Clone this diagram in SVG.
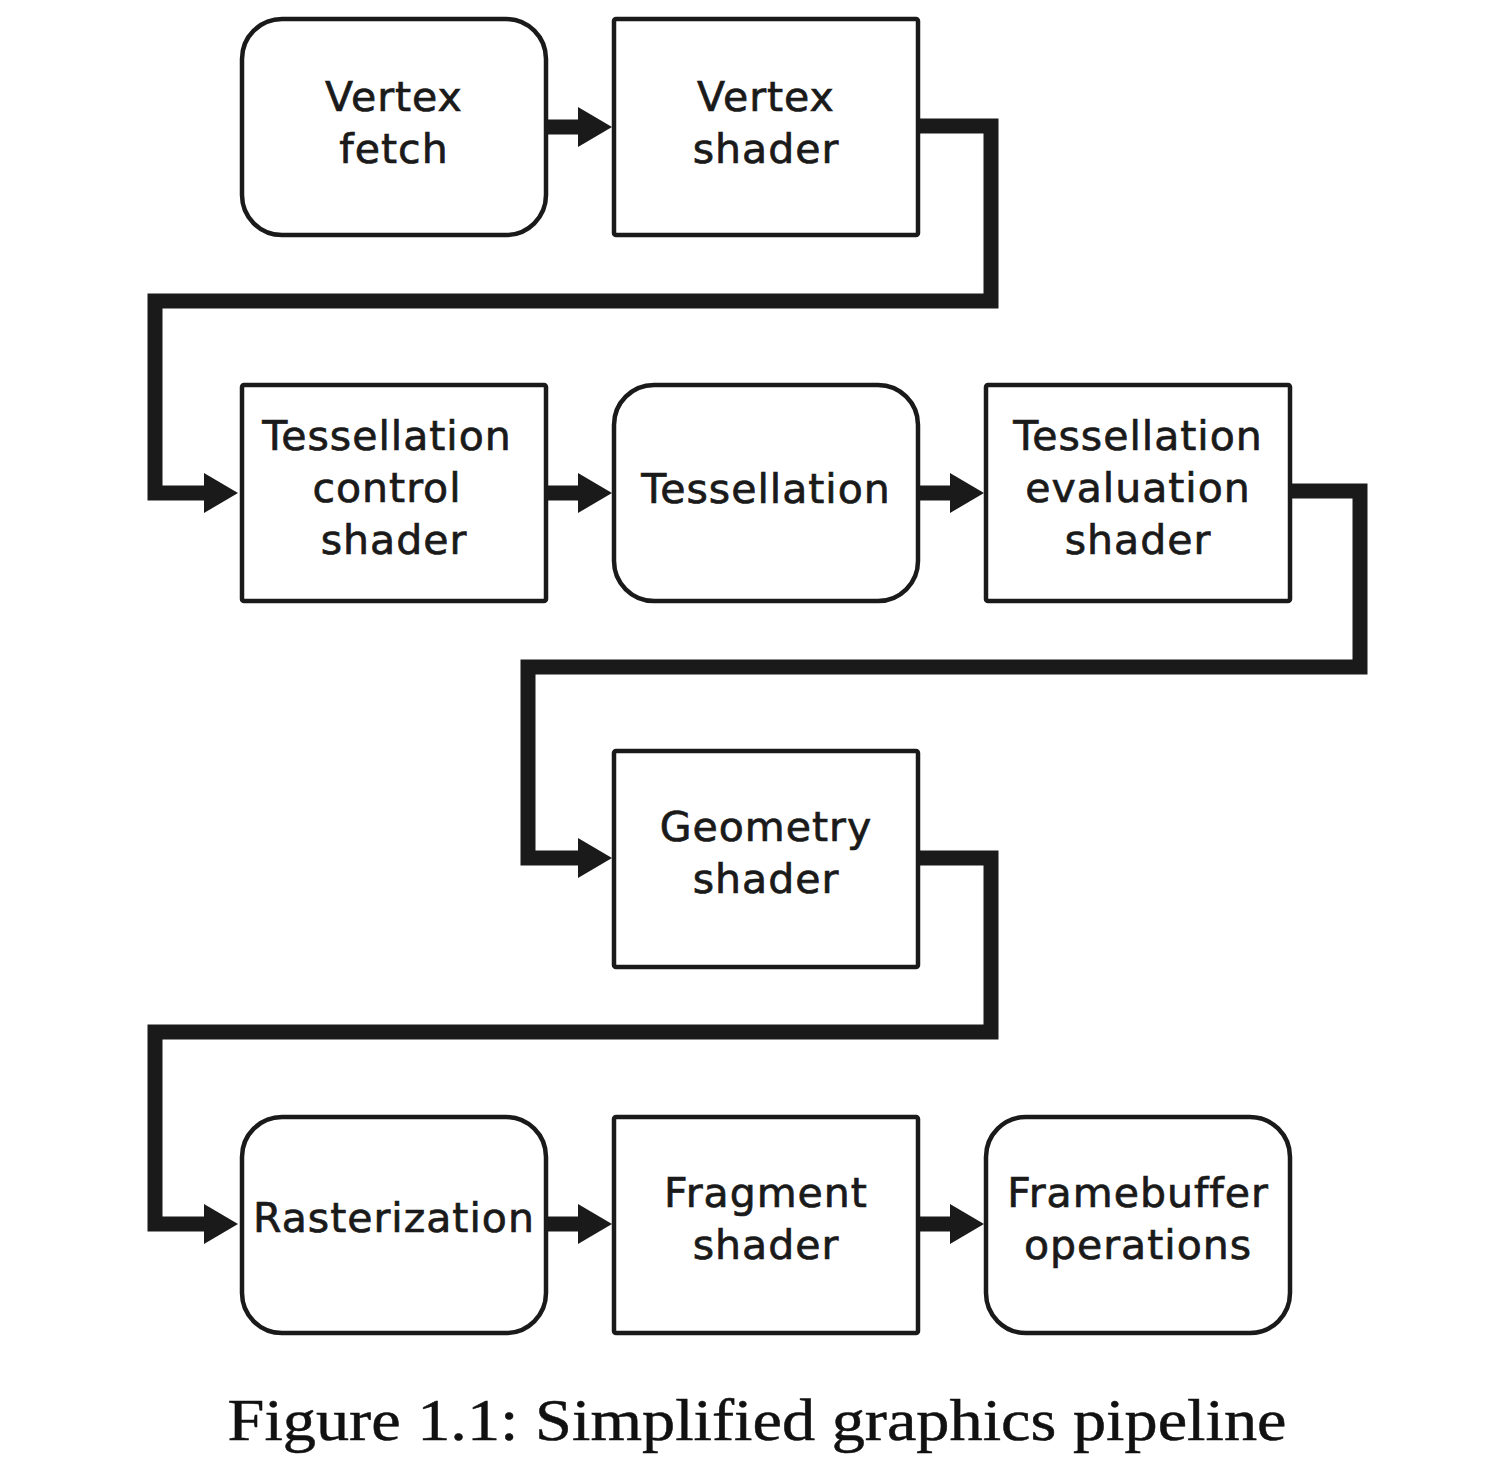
<svg xmlns="http://www.w3.org/2000/svg" width="1498" height="1472" viewBox="0 0 1498 1472">
<style>
.box{fill:#fff;stroke:#1a1a1a;stroke-width:4.5}
.lbl{font-family:"DejaVu Sans","Noto Sans",sans-serif;font-size:41px;fill:#1a1a1a;stroke:#1a1a1a;stroke-width:0.7px;text-anchor:middle;letter-spacing:1px}
.con{fill:none;stroke:#1a1a1a;stroke-width:15;stroke-linejoin:miter}
.cap{font-family:"Liberation Serif",serif;font-size:60px;fill:#111;stroke:#111;stroke-width:0.5px;text-anchor:middle}
</style>
<defs>
<marker id="ah" markerUnits="userSpaceOnUse" markerWidth="36" markerHeight="42" refX="2" refY="21" orient="auto" viewBox="0 0 36 42">
<path d="M0,1 L34,21 L0,41 Z" fill="#1a1a1a"/>
</marker>
</defs>
<rect width="1498" height="1472" fill="#fff"/>
<g id="connectors">
<path class="con" d="M546,127 H580" marker-end="url(#ah)"/>
<path class="con" d="M918,126 H991 V301 H155 V493 H206" marker-end="url(#ah)"/>
<path class="con" d="M546,493 H580" marker-end="url(#ah)"/>
<path class="con" d="M918,493 H952" marker-end="url(#ah)"/>
<path class="con" d="M1290,491 H1360 V667 H528 V858 H580" marker-end="url(#ah)"/>
<path class="con" d="M918,858 H991 V1032 H155 V1224 H206" marker-end="url(#ah)"/>
<path class="con" d="M546,1224 H580" marker-end="url(#ah)"/>
<path class="con" d="M918,1224 H952" marker-end="url(#ah)"/>
</g>
<g id="vertex-fetch">
<rect class="box" x="242" y="19" width="304" height="216" rx="40"/>
<text class="lbl" x="394" y="111">Vertex</text>
<text class="lbl" x="394" y="163">fetch</text>
</g>
<g id="vertex-shader">
<rect class="box" x="614" y="19" width="304" height="216" rx="2"/>
<text class="lbl" x="766" y="111">Vertex</text>
<text class="lbl" x="766" y="163">shader</text>
</g>
<g id="tess-control">
<rect class="box" x="242" y="385" width="304" height="216" rx="2"/>
<text class="lbl" x="387" y="450">Tessellation</text>
<text class="lbl" x="387" y="502">control</text>
<text class="lbl" x="394" y="554">shader</text>
</g>
<g id="tessellation">
<rect class="box" x="614" y="385" width="304" height="216" rx="40"/>
<text class="lbl" x="766" y="503">Tessellation</text>
</g>
<g id="tess-eval">
<rect class="box" x="986" y="385" width="304" height="216" rx="2"/>
<text class="lbl" x="1138" y="450">Tessellation</text>
<text class="lbl" x="1138" y="502">evaluation</text>
<text class="lbl" x="1138" y="554">shader</text>
</g>
<g id="geometry-shader">
<rect class="box" x="614" y="751" width="304" height="216" rx="2"/>
<text class="lbl" x="766" y="841">Geometry</text>
<text class="lbl" x="766" y="893">shader</text>
</g>
<g id="rasterization">
<rect class="box" x="242" y="1117" width="304" height="216" rx="40"/>
<text class="lbl" x="394" y="1232">Rasterization</text>
</g>
<g id="fragment-shader">
<rect class="box" x="614" y="1117" width="304" height="216" rx="2"/>
<text class="lbl" x="766" y="1207">Fragment</text>
<text class="lbl" x="766" y="1259">shader</text>
</g>
<g id="framebuffer">
<rect class="box" x="986" y="1117" width="304" height="216" rx="40"/>
<text class="lbl" x="1138" y="1207">Framebuffer</text>
<text class="lbl" x="1138" y="1259">operations</text>
</g>
<text class="cap" x="757" y="1440" textLength="1059" lengthAdjust="spacingAndGlyphs">Figure 1.1: Simplified graphics pipeline</text>
</svg>
